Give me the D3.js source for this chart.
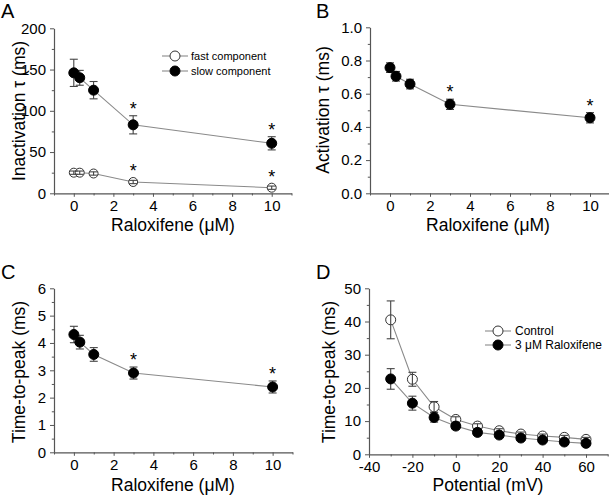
<!DOCTYPE html>
<html><head><meta charset="utf-8">
<script src="https://cdn.jsdelivr.net/npm/d3@7"></script>
<style>
body{margin:0;background:#fff;}
svg{display:block;font-family:"Liberation Sans",Arial,sans-serif;}
</style></head>
<body>
<svg id="chart" width="609" height="503"></svg>
<script>
// ---- data ----
const conc = [0, 0.3, 1, 3, 10];
const slowMean = [146, 140, 125, 83, 60.6];
const slowErr  = [16.5, 9, 10.5, 11, 8];
const fastMean = [25, 25, 24, 13.7, 6.8];
const fastErr  = [2, 2, 2, 2, 2];
const actMean = [0.757, 0.705, 0.658, 0.536, 0.455];
const actErr  = [0.029, 0.029, 0.029, 0.031, 0.031];
const ttpMean = [4.31, 4.03, 3.58, 2.9, 2.39];
const ttpErr  = [0.3, 0.25, 0.25, 0.22, 0.22];
const potential = [-30, -20, -10, 0, 10, 20, 30, 40, 50, 60];
const ctrlMean = [40.5, 22.6, 14.3, 10.5, 8.5, 7.1, 6.1, 5.5, 5.1, 4.5];
const ctrlErr  = [5.7, 2.1, 1.6, 0.8, 0.7, 0.6, 0.6, 0.6, 0.6, 0.6];
const raloxMean = [22.7, 15.4, 11.1, 8.5, 6.6, 5.8, 4.9, 4.3, 3.7, 3.3];
const raloxErr  = [3.1, 2.1, 1.4, 1.0, 0.8, 0.7, 0.7, 0.7, 0.7, 0.7];
const sigConc = [3, 10];
const ticksConc = [0, 2, 4, 6, 8, 10];
const ticksA = [0, 50, 100, 150, 200];
const ticksB = [0, 0.2, 0.4, 0.6, 0.8, 1.0];
const ticksC = [0, 1, 2, 3, 4, 5, 6];
const ticksDx = [-40, -20, 0, 20, 40, 60];
const ticksDy = [0, 10, 20, 30, 40, 50];

const svg = d3.select("#chart");
const AX = "#555", LINE = "#8a8a8a", ERR = "#444";
const hyph = d => String(d).replace("\u2212","-");

function panel(cfg){
  const g = svg.append("g");
  const x = d3.scaleLinear().domain(cfg.xd).range(cfg.xr);
  const y = d3.scaleLinear().domain(cfg.yd).range(cfg.yr);
  // minor ticks
  g.append("g").attr("transform",`translate(0,${cfg.yr[0]})`)
    .call(d3.axisBottom(x).tickValues(cfg.xminor).tickSize(2.2).tickFormat("").tickSizeOuter(0))
    .call(s=>{s.select(".domain").remove(); s.selectAll("line").attr("stroke",AX);});
  g.append("g").attr("transform",`translate(${cfg.xr[0]},0)`)
    .call(d3.axisLeft(y).tickValues(cfg.yminor).tickSize(2.2).tickFormat("").tickSizeOuter(0))
    .call(s=>{s.select(".domain").remove(); s.selectAll("line").attr("stroke",AX);});
  const xa = g.append("g").attr("transform",`translate(0,${cfg.yr[0]})`)
    .call(d3.axisBottom(x).tickValues(cfg.xt).tickSize(3.5).tickSizeOuter(0).tickPadding(3.5).tickFormat(d=>hyph(d)));
  const ya = g.append("g").attr("transform",`translate(${cfg.xr[0]},0)`)
    .call(d3.axisLeft(y).tickValues(cfg.yt).tickSize(4).tickSizeOuter(0).tickPadding(4).tickFormat(cfg.yf||(d=>hyph(d))));
  [xa,ya].forEach(a=>{
    a.select(".domain").attr("stroke",AX).attr("stroke-width",1.2);
    a.selectAll(".tick line").attr("stroke",AX);
    a.selectAll("text").attr("font-size",15).attr("fill","#000").attr("font-family","Liberation Sans, Arial, sans-serif");
  });
  // titles
  g.append("text").attr("x",cfg.xtitle[1]).attr("y",cfg.xtitle[2]).attr("text-anchor","middle")
    .attr("font-size",17.5).text(cfg.xtitle[0]);
  g.append("text").attr("transform",`translate(${cfg.ytitle[1]},${cfg.ytitle[2]}) rotate(-90)`)
    .attr("text-anchor","middle").attr("font-size",17.5).text(cfg.ytitle[0]);
  g.append("text").attr("x",cfg.letter[1]).attr("y",cfg.letter[2]).attr("font-size",20).text(cfg.letter[0]);
  // series
  cfg.series.forEach(s=>{
    const pts = s.xs.map((xv,i)=>({x:xv,m:s.m[i],e:s.e[i]}));
    g.append("path").datum(pts).attr("fill","none").attr("stroke",LINE).attr("stroke-width",1.1)
      .attr("d",d3.line().x(d=>x(d.x)).y(d=>y(d.m)));
    const drawErr = ()=>{
      const eg = g.append("g").attr("stroke",ERR).attr("stroke-width",1.1);
      pts.forEach(d=>{
        const cx=x(d.x), t=y(d.m+d.e), b=y(d.m-d.e);
        eg.append("line").attr("x1",cx).attr("x2",cx).attr("y1",t).attr("y2",b);
        eg.append("line").attr("x1",cx-4).attr("x2",cx+4).attr("y1",t).attr("y2",t);
        eg.append("line").attr("x1",cx-4).attr("x2",cx+4).attr("y1",b).attr("y2",b);
      });
    };
    if(s.filled) drawErr();
    g.append("g").selectAll("circle").data(pts).join("circle")
      .attr("cx",d=>x(d.x)).attr("cy",d=>y(d.m)).attr("r",s.r||5)
      .attr("fill",s.filled?"#000":"#fff").attr("stroke",s.filled?"#000":"#333").attr("stroke-width",1);
    if(!s.filled) drawErr();
    if(s.sig){
      pts.filter(d=>s.sig.includes(d.x)).forEach(d=>{
        g.append("text").attr("x",x(d.x)).attr("y",y(d.m+d.e)-(s.sigOff||1)).attr("text-anchor","middle")
          .attr("font-size",18).text("*");
      });
    }
  });
  // legend
  if(cfg.legend){
    const L = cfg.legend;
    L.items.forEach((it,i)=>{
      const yy = L.y + i*L.dy;
      g.append("line").attr("x1",L.x-13).attr("x2",L.x+13).attr("y1",yy).attr("y2",yy).attr("stroke",LINE).attr("stroke-width",1.1);
      g.append("circle").attr("cx",L.x).attr("cy",yy).attr("r",5)
        .attr("fill",it.filled?"#000":"#fff").attr("stroke",it.filled?"#000":"#333");
      g.append("text").attr("x",L.x+L.tx).attr("y",yy+4).attr("font-size",L.fs).text(it.label);
    });
  }
}

const oddConc = [-1,1,3,5,7,9,11];

panel({
  xd:[-1,11], xr:[54,291.5], yd:[0,200], yr:[193.3,28.3],
  xt:ticksConc, xminor:oddConc, yt:ticksA, yminor:[25,75,125,175],
  xtitle:["Raloxifene (\u03bcM)",173,231], ytitle:["Inactivation \u03c4 (ms)",25,111],
  letter:["A",1,18],
  series:[
    {xs:conc,m:fastMean,e:fastErr,filled:false,r:4.5,sig:sigConc,sigOff:3},
    {xs:conc,m:slowMean,e:slowErr,filled:true,sig:sigConc,sigOff:1}
  ],
  legend:{x:175,y:56,dy:15,tx:16,fs:11,items:[{label:"fast component",filled:false},{label:"slow component",filled:true}]}
});

panel({
  xd:[-1,11], xr:[370,610], yd:[0,1], yr:[193.3,27.3],
  xt:ticksConc, xminor:oddConc, yt:ticksB, yminor:[0.1,0.3,0.5,0.7,0.9],
  yf:d3.format(".1f"),
  xtitle:["Raloxifene (\u03bcM)",488,231], ytitle:["Activation \u03c4 (ms)",329,110],
  letter:["B",316,18],
  series:[{xs:conc,m:actMean,e:actErr,filled:true,sig:sigConc,sigOff:1}]
});

panel({
  xd:[-1,11], xr:[54,292.5], yd:[0,6], yr:[452.3,288.3],
  xt:ticksConc, xminor:oddConc, yt:ticksC, yminor:[0.5,1.5,2.5,3.5,4.5,5.5],
  xtitle:["Raloxifene (\u03bcM)",173,491], ytitle:["Time-to-peak (ms)",25,372],
  letter:["C",1,279],
  series:[{xs:conc,m:ttpMean,e:ttpErr,filled:true,sig:sigConc,sigOff:1}]
});

panel({
  xd:[-40,70], xr:[369,607.7], yd:[0,50], yr:[454.3,288.3],
  xt:ticksDx, xminor:[-30,-10,10,30,50,70], yt:ticksDy, yminor:[5,15,25,35,45],
  xtitle:["Potential (mV)",488,491], ytitle:["Time-to-peak (ms)",335,372],
  letter:["D",316,279],
  series:[
    {xs:potential,m:ctrlMean,e:ctrlErr,filled:false},
    {xs:potential,m:raloxMean,e:raloxErr,filled:true}
  ],
  legend:{x:498,y:331,dy:14,tx:17,fs:12,items:[{label:"Control",filled:false},{label:"3 \u03bcM Raloxifene",filled:true}]}
});
</script>
</body></html>
